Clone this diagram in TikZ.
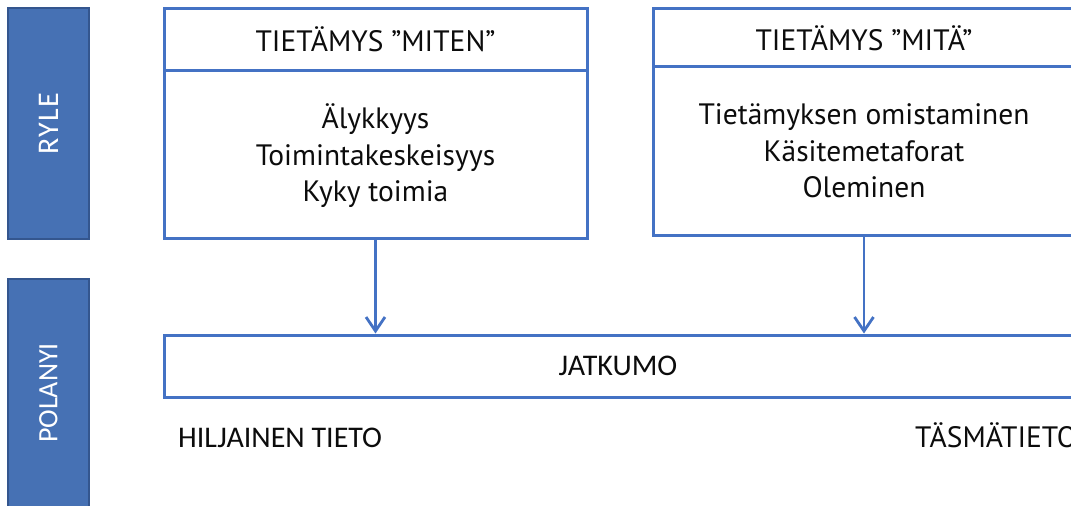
\documentclass[tikz,border=0pt]{standalone}
\usepackage{fontspec}
\setmainfont{Carlito}
\newfontfamily\boxfont{PT Sans}
\usetikzlibrary{arrows.meta}
\definecolor{slideblue}{RGB}{68,114,196}
\definecolor{barfill}{RGB}{70,113,180}
\definecolor{barline}{RGB}{52,86,142}
\definecolor{ink}{RGB}{12,12,12}

\begin{document}
\begin{tikzpicture}[x=1pt,y=-1pt,
  bar/.style={draw=barline, line width=1.2pt, fill=barfill, minimum width=81pt,
    inner sep=0pt},
  bartext/.style={rotate=90, text=white, font=\fontsize{28}{34}\selectfont},
  framebox/.style={draw=slideblue, line width=3pt, inner sep=0pt},
  headtext/.style={text=ink, anchor=base, font=\boxfont\fontsize{29.5}{36}\selectfont},
  bodytext/.style={text=ink, align=center, anchor=base, inner sep=0pt,
    font=\boxfont\fontsize{29.5}{36.5}\selectfont},
  plaintext/.style={text=ink, font=\fontsize{30}{36}\selectfont},
  link/.style={draw=slideblue, line width=2.8pt,
    -{Straight Barb[length=14pt,width=19pt]}}]
\useasboundingbox (0,0) rectangle (1071,506);
\clip (0,0) rectangle (1071,506);

% side bars
\node[bar, minimum height=231pt] (ryle) at (48.5,123.5) {};
\node[bartext, font=\fontsize{30}{36}\selectfont\addfontfeature{LetterSpace=5}] (ryletext) at (ryle.center) {RYLE};
\node[bar, minimum height=234pt] (polanyi) at (48.5,396) {};
\node[bartext] (polanyitext) at (48.5,393) {POLANYI};

% knowledge boxes (the body anchor is the baseline of the last line)
\node[framebox, minimum width=423pt, minimum height=230pt] (miten) at (375.5,123) {};
\draw[slideblue, line width=3pt] (164,70) coordinate (mitenL) -- (587,70) coordinate (mitenR);
\node[headtext] (mitenhead) at (375.5,51.5) {TIETÄMYS ”MITEN”};
\node[bodytext] (mitenbody) at (375.5,201.5) {Älykkyys\\Toimintakeskeisyys\\Kyky toimia};

\node[framebox, minimum width=422pt, minimum height=227pt] (mita) at (864,121.5) {};
\draw[slideblue, line width=3pt] (653,66) coordinate (mitaL) -- (1075,66) coordinate (mitaR);
\node[headtext] (mitahead) at (864,50.5) {TIETÄMYS ”MITÄ”};
\node[bodytext] (mitabody) at (864,197.7) {Tietämyksen omistaminen\\Käsitemetaforat\\Oleminen};

% continuum
\node[framebox, minimum width=908pt, minimum height=62pt] (jatkumo) at (618,366) {};
\node[plaintext] (jatkumotext) at (618,366) {JATKUMO};

\draw[link] (miten.south) -- (miten.south |- jatkumo.north);
\draw[link] (mita.south) -- (mita.south |- jatkumo.north);

% ends of the continuum
\node[plaintext, anchor=base west, inner sep=0pt] (tacit) at (178,447) {HILJAINEN TIETO};
\node[plaintext, anchor=base west, inner sep=0pt, font=\boxfont\fontsize{29.5}{36}\selectfont] (explicit) at (915,447.5) {TÄSMÄTIETO};
\end{tikzpicture}
\end{document}
